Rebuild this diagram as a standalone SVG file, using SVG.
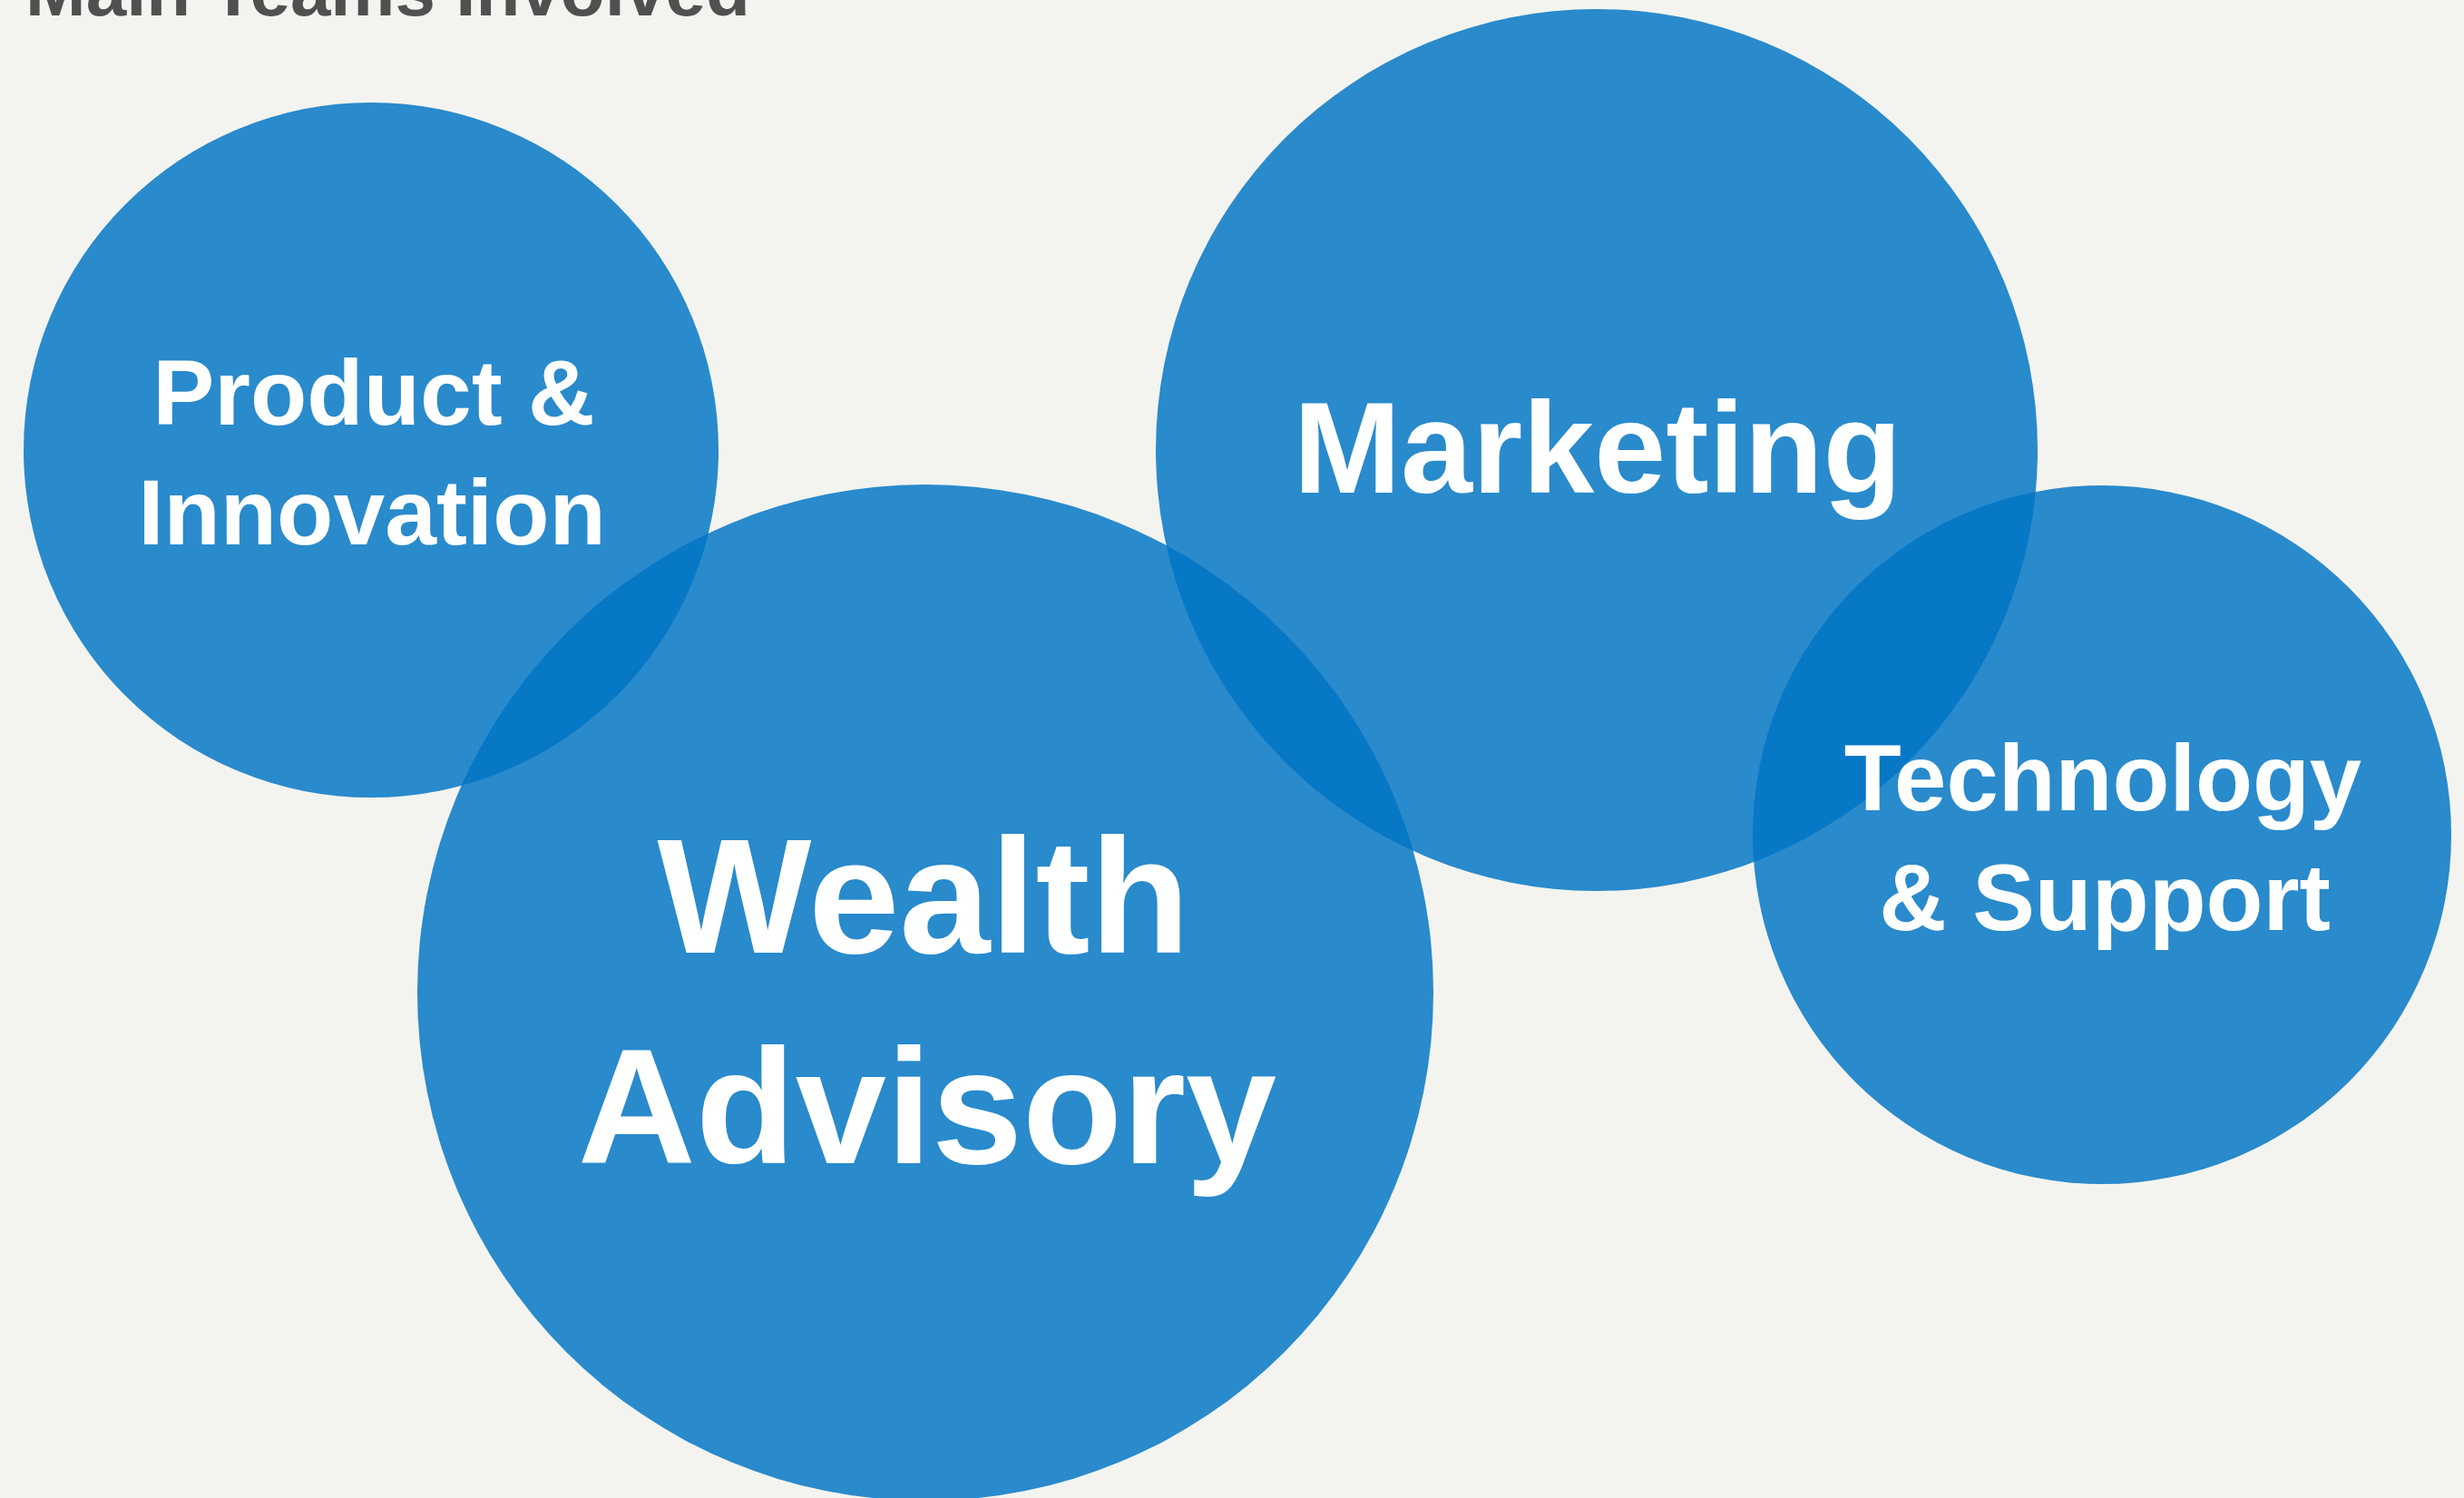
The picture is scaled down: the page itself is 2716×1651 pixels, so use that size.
<svg xmlns="http://www.w3.org/2000/svg" width="2716" height="1651" viewBox="0 0 2716 1651">
  <style>
    .bg { fill: #F3F4EF; }
    .team { fill: #0075C4; fill-opacity: 0.83; }
    .label { fill: #FFFFFF; font-family: 'Liberation Sans', sans-serif; font-weight: 700; text-anchor: middle; }
    .title { fill: #505050; font-family: 'Liberation Sans', sans-serif; font-weight: 700; font-size: 80px; }
  </style>
  <rect class="bg" x="0" y="0" width="2716" height="1651"/>
  <text class="title" x="28" y="17">Main Teams Involved</text>
  <g id="connectors"></g>
  <g id="product-innovation">
    <circle class="team" cx="409" cy="496" r="383"/>
    <text class="label" font-size="102" x="412" y="468">Product &amp;</text>
    <text class="label" font-size="102" x="410" y="600">Innovation</text>
  </g>
  <g id="marketing">
    <circle class="team" cx="1760" cy="496" r="486"/>
    <text class="label" font-size="142" x="1761" y="543">Marketing</text>
  </g>
  <g id="wealth-advisory">
    <circle class="team" cx="1020" cy="1094" r="560"/>
    <text class="label" font-size="180" x="1018" y="1050">Wealth</text>
    <text class="label" font-size="180" x="1022" y="1282">Advisory</text>
  </g>
  <g id="technology-support">
    <circle class="team" cx="2317" cy="920" r="385"/>
    <text class="label" font-size="103" x="2318" y="893">Technology</text>
    <text class="label" font-size="103" x="2320" y="1025">&amp; Support</text>
  </g>
</svg>
